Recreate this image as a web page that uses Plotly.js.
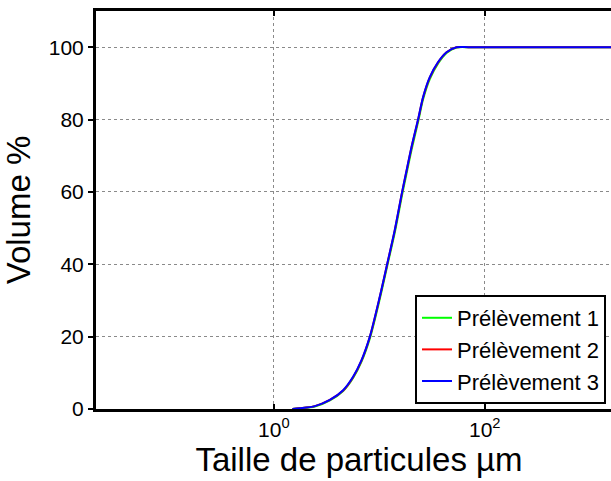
<!DOCTYPE html>
<html>
<head>
<meta charset="utf-8">
<script src="https://cdn.plot.ly/plotly-3.0.1.min.js"></script>
<style>
html, body { margin: 0; padding: 0; overflow: hidden; background: #fff; }
#chart { width: 640px; height: 481px; }
</style>
</head>
<body>
<div id="chart"></div>
<script>
// Particle size (µm)
const sizes = [1.5, 1.76, 2.45, 3.40, 4.54, 5.64, 6.78, 8.13, 10.1, 11.9, 14.0, 16.4, 17.8, 20.2, 23.3, 26.0, 30.1, 36.1, 43.4, 53.9, 70, 100, 200, 500, 1000, 2000];
// Cumulative volume % for each sample
const prelevement1 = [0, 0.2, 0.7, 2.4, 5.0, 8.6, 13.1, 19.5, 30.4, 39.6, 48.7, 59.0, 64.0, 71.6, 79.3, 85.6, 91.2, 95.5, 98.4, 99.9, 100, 100, 100, 100, 100, 100];
const prelevement2 = [0, 0.2, 0.8, 2.5, 5.1, 8.8, 13.4, 19.9, 30.9, 40.1, 49.3, 59.7, 64.7, 72.3, 79.9, 86.1, 91.6, 95.8, 98.6, 100, 100, 100, 100, 100, 100, 100];
const prelevement3 = [0, 0.2, 0.8, 2.5, 5.2, 8.9, 13.5, 20.0, 31.0, 40.2, 49.4, 59.8, 64.8, 72.4, 80.0, 86.2, 91.7, 95.9, 98.6, 100, 100, 100, 100, 100, 100, 100];
const seriesNames = ["Prélèvement 1", "Prélèvement 2", "Prélèvement 3"];
const seriesColors = ["#00ff00", "#ff0000", "#0000ff"];
const xTickVals = [1, 100];
const xTickText = ["10<sup>0</sup>", "10<sup>2</sup>"];
const yTickVals = [0, 20, 40, 60, 80, 100];

const allSeries = [prelevement1, prelevement2, prelevement3];
const traces = allSeries.map((ys, i) => ({
  x: sizes, y: ys, type: 'scatter', mode: 'lines', name: seriesNames[i],
  line: { color: seriesColors[i], width: 2, shape: 'spline', smoothing: 0.8 }
}));

const font = "Liberation Sans, Arial, sans-serif";
const layout = {
  width: 640, height: 481,
  margin: { l: 96, r: 18, t: 11, b: 72 },
  paper_bgcolor: '#fff', plot_bgcolor: '#fff',
  font: { family: font, color: '#000', size: 21 },
  showlegend: true,
  legend: {
    x: 0.6065, y: 0.0126, xanchor: 'left', yanchor: 'bottom',
    bgcolor: '#fff', bordercolor: '#000', borderwidth: 2,
    font: { family: font, size: 22, color: '#000' },
    tracegroupgap: 0
  },
  xaxis: {
    type: 'log', range: [Math.log10(0.0206), Math.log10(2000)],
    tickvals: xTickVals, ticktext: xTickText,
    ticks: 'inside', ticklen: 5, tickwidth: 2, tickcolor: '#000',
    showline: true, linecolor: '#000', linewidth: 3, mirror: 'ticks',
    showgrid: true, gridcolor: '#8a8a8a', griddash: 'dot', gridwidth: 1,
    zeroline: false, layer: 'above traces',
    tickfont: { family: font, size: 21, color: '#000' },
    title: { text: 'Taille de particules µm', font: { family: font, size: 33, color: '#000' }, standoff: 0 },
    automargin: false
  },
  yaxis: {
    range: [0, 110],
    tickvals: yTickVals,
    ticks: 'outside', ticklen: 5, tickwidth: 2, tickcolor: '#000',
    showline: true, linecolor: '#000', linewidth: 3, mirror: true,
    showgrid: true, gridcolor: '#8a8a8a', griddash: 'dot', gridwidth: 1,
    zeroline: false, layer: 'above traces',
    tickfont: { family: font, size: 21, color: '#000' },
    title: { text: 'Volume %', font: { family: font, size: 33, color: '#000' }, standoff: 10 },
    automargin: true
  }
};

Plotly.newPlot('chart', traces, layout, { displayModeBar: false, staticPlot: true });
</script>
</body>
</html>
